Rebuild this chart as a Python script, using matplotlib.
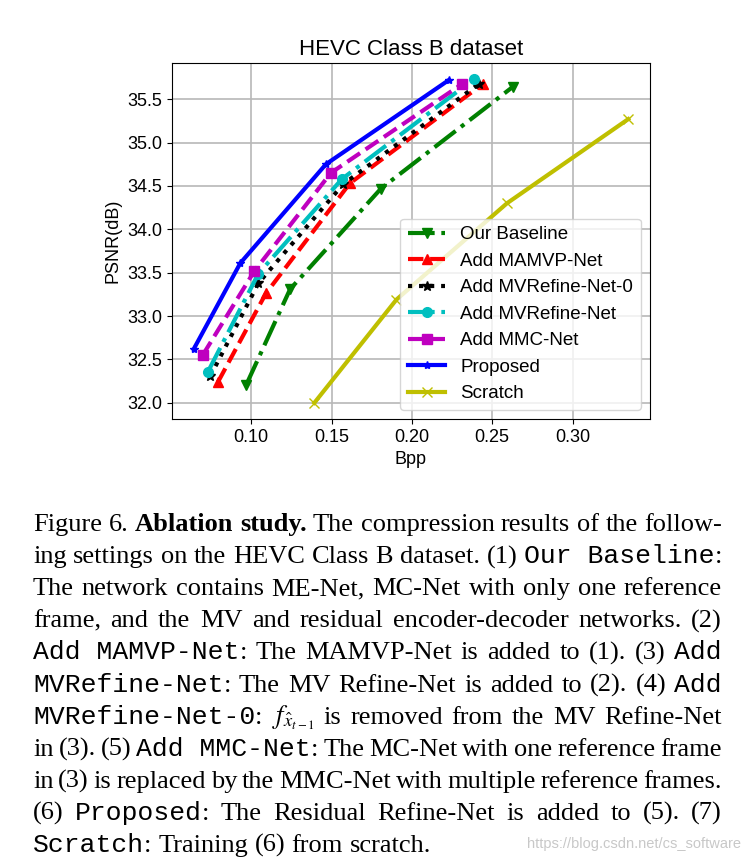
import matplotlib
matplotlib.use('Agg')
import matplotlib.pyplot as plt

plt.rcParams.update({'font.size': 13, 'font.family': 'Liberation Sans'})

# rate-distortion points
bpp_baseline = [0.0967, 0.1242, 0.1808, 0.2627]
psnr_baseline = [32.20, 33.31, 34.47, 35.64]
bpp_mamvp = [0.0793, 0.1091, 0.1614, 0.2445]
psnr_mamvp = [32.24, 33.26, 34.53, 35.68]
bpp_mvref0 = [0.0746, 0.1045, 0.1573, 0.2420]
psnr_mvref0 = [32.31, 33.38, 34.52, 35.68]
bpp_mvref = [0.0731, 0.1045, 0.1565, 0.2385]
psnr_mvref = [32.36, 33.49, 34.58, 35.73]
bpp_mmc = [0.0698, 0.1020, 0.1496, 0.2309]
psnr_mmc = [32.55, 33.52, 34.65, 35.67]
bpp_proposed = [0.0642, 0.0932, 0.1465, 0.2230]
psnr_proposed = [32.62, 33.61, 34.75, 35.72]
bpp_scratch = [0.1393, 0.1904, 0.2592, 0.3347]
psnr_scratch = [32.00, 33.19, 34.30, 35.27]

W, H = 751, 863
fig = plt.figure(figsize=(W / 100, H / 100), dpi=100)
ax = fig.add_axes([172 / W, 1 - 419 / H, 478 / W, 356 / H])

ax.plot(bpp_baseline, psnr_baseline, 'g-.v', lw=3, ms=7, label='Our Baseline')
ax.plot(bpp_mamvp, psnr_mamvp, 'r--^', lw=3, ms=7, label='Add MAMVP-Net')
ax.plot(bpp_mvref0, psnr_mvref0, 'k:*', lw=3, ms=7, label='Add MVRefine-Net-0')
ax.plot(bpp_mvref, psnr_mvref, 'c-.o', lw=3, ms=7, label='Add MVRefine-Net')
ax.plot(bpp_mmc, psnr_mmc, 'm--s', lw=3, ms=7, label='Add MMC-Net')
ax.plot(bpp_proposed, psnr_proposed, 'b-*', lw=3, ms=6, label='Proposed')
ax.plot(bpp_scratch, psnr_scratch, 'y-x', lw=3, ms=7, label='Scratch')

ax.grid(True, color='#b8b8b8', lw=1.2)
ax.set_title('HEVC Class B dataset', fontsize=16)
ax.set_xlabel('Bpp')
ax.set_ylabel('PSNR(dB)')
ax.legend(loc='lower right', fontsize=13.5, labelspacing=0.5)

# caption below the chart, justified like the paper
CAP_FS = 19
STYLE = {
    'rm': dict(family='Liberation Serif', size=CAP_FS),
    'bf': dict(family='Liberation Serif', size=CAP_FS, weight='bold'),
    'tt': dict(family='Liberation Mono', size=CAP_FS),
    'math': dict(family='Liberation Serif', size=CAP_FS, math_fontfamily='stix'),
}

caption = [
    [('Figure 6. ', 'rm'), ('Ablation study.', 'bf'), (' The compression results of the follow-', 'rm')],
    [('ing settings on the HEVC Class B dataset. (1) ', 'rm'), ('Our Baseline', 'tt'), (':', 'rm')],
    [('The network contains ME-Net, MC-Net with only one reference', 'rm')],
    [('frame, and the MV and residual encoder-decoder networks. (2)', 'rm')],
    [('Add MAMVP-Net', 'tt'), (': The MAMVP-Net is added to (1). (3) ', 'rm'), ('Add', 'tt')],
    [('MVRefine-Net', 'tt'), (': The MV Refine-Net is added to (2). (4) ', 'rm'), ('Add', 'tt')],
    [('MVRefine-Net-0', 'tt'), (': ', 'rm'), (r'$f_{\hat{x}_{t-1}}$', 'math'),
     (' is removed from the MV Refine-Net', 'rm')],
    [('in (3). (5) ', 'rm'), ('Add MMC-Net', 'tt'), (': The MC-Net with one reference frame', 'rm')],
    [('in (3) is replaced by the MMC-Net with multiple reference frames.', 'rm')],
    [('(6) ', 'rm'), ('Proposed', 'tt'), (': The Residual Refine-Net is added to (5). (7)', 'rm')],
    [('Scratch', 'tt'), (': Training (6) from scratch.', 'rm')],
]


def words_of(segs):
    words = []
    join = False
    for text, st in segs:
        parts = [text] if st in ('tt', 'math') else text.split(' ')
        for i, p in enumerate(parts):
            if p == '':
                join = False
                continue
            if i == 0 and join and words:
                words[-1].append((p, st))
            else:
                words.append([(p, st)])
            join = True
    return words


fig.canvas.draw()
renderer = fig.canvas.get_renderer()


def seg_width(s, st):
    t = fig.text(0, 0, s, **STYLE[st])
    w = t.get_window_extent(renderer).width
    t.remove()
    return w


x_left, x_right = 33, 722
y0, step = 531, 32.1
space = CAP_FS * 100 / 72 * 0.25
for n, segs in enumerate(caption):
    words = words_of(segs)
    widths = [[seg_width(s, st) for s, st in w] for w in words]
    total = sum(sum(w) for w in widths)
    if n == len(caption) - 1:
        gap = space
    else:
        gap = (x_right - x_left - total) / (len(words) - 1)
    x = x_left
    yb = 1 - (y0 + n * step) / H
    for w, ws in zip(words, widths):
        for (s, st), sw in zip(w, ws):
            fig.text(x / W, yb, s, va='baseline', ha='left', **STYLE[st])
            x += sw
        x += gap

fig.text(741 / W, 1 - 848 / H, 'https://blog.csdn.net/cs_software', ha='right',
         va='baseline', fontsize=10.5, color='#c8c8c8')

fig.savefig('out.png', dpi=100)
